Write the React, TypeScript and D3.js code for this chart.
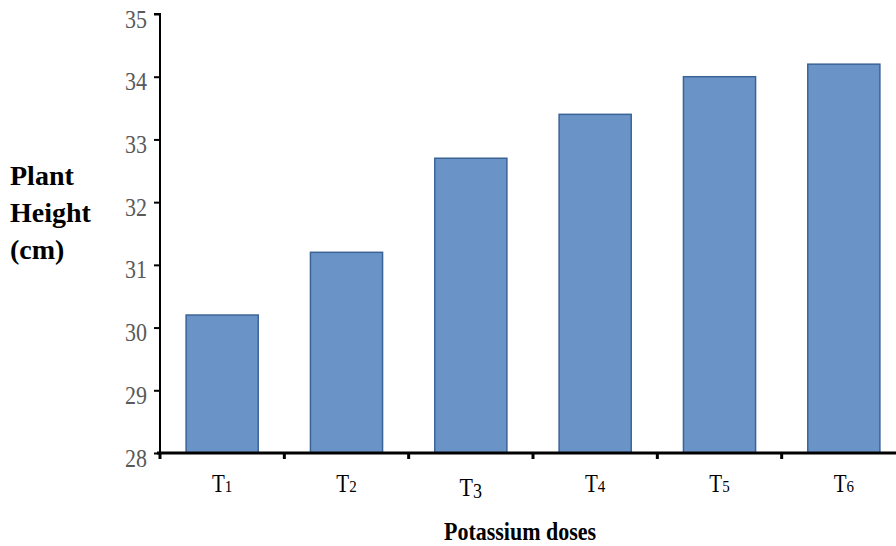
import { useEffect, useRef } from 'react';
import * as d3 from 'd3';

const categories = ['T1', 'T2', 'T3', 'T4', 'T5', 'T6'];
const subscripts = ['1', '2', '3', '4', '5', '6'];
const heights = [30.2, 31.2, 32.7, 33.4, 34.0, 34.2];
const yTicks = [28, 29, 30, 31, 32, 33, 34, 35];

const App = () => {
  const ref = useRef<SVGSVGElement>(null);

  useEffect(() => {
    const width = 896;
    const height = 546;
    const svg = d3.select(ref.current);
    svg.selectAll('*').remove();
    svg.attr('width', width).attr('height', height);

    const font = '"Liberation Serif", "Times New Roman", serif';

    const x = d3.scaleBand().domain(categories).range([160, 906]).paddingInner(0.42).paddingOuter(0.21);
    const xTickScale = d3.scaleBand().domain(categories).range([160, 906]);
    const y = d3.scaleLinear().domain([28, 35]).range([453, 14]);

    // bars
    svg
      .selectAll('rect.bar')
      .data(heights)
      .enter()
      .append('rect')
      .attr('class', 'bar')
      .attr('x', (_, i) => x(categories[i])!)
      .attr('y', (d) => y(d))
      .attr('width', x.bandwidth())
      .attr('height', (d) => y(28) - y(d))
      .attr('fill', '#6a94c8')
      .attr('stroke', '#3c6396')
      .attr('stroke-width', 1.5);

    // y axis
    const yAxis = svg
      .append('g')
      .attr('transform', 'translate(160,0)')
      .call(d3.axisLeft(y).tickValues(yTicks).tickSize(6).tickPadding(6).tickFormat(d3.format('d')));
    yAxis.select('.domain').attr('stroke', '#000').attr('stroke-width', 2).attr('d', `M-6,${y(35)}H0V${y(28)}`);
    yAxis.selectAll('.tick line').attr('stroke', '#000').attr('stroke-width', 2);
    yAxis
      .selectAll('.tick text')
      .attr('fill', '#595959')
      .attr('dy', null)
      .attr('x', 0)
      .attr('y', 0)
      .attr('transform', 'translate(-13,13) scale(1,1.12)')
      .style('font-family', font)
      .style('font-size', '22px');

    // x axis
    svg
      .append('line')
      .attr('x1', 157)
      .attr('x2', 906)
      .attr('y1', y(28))
      .attr('y2', y(28))
      .attr('stroke', '#000')
      .attr('stroke-width', 3);

    svg
      .selectAll('line.xtick')
      .data(categories)
      .enter()
      .append('line')
      .attr('class', 'xtick')
      .attr('x1', (d) => xTickScale(d)!)
      .attr('x2', (d) => xTickScale(d)!)
      .attr('y1', y(28))
      .attr('y2', y(28) + 6)
      .attr('stroke', '#000')
      .attr('stroke-width', 3);

    const labels = svg
      .selectAll('text.xlabel')
      .data(categories)
      .enter()
      .append('text')
      .attr('class', 'xlabel')
      .attr('transform', (d, i) => `translate(${x(d)! + x.bandwidth() / 2},${i === 2 ? 496 : 492}) scale(1,1.18)`)
      .attr('text-anchor', 'middle')
      .attr('fill', '#000')
      .style('font-family', font)
      .style('font-size', (_, i) => (i === 2 ? '22px' : '21px'));
    labels.append('tspan').text('T');
    labels
      .append('tspan')
      .style('font-size', (_, i) => (i === 2 ? '18px' : '15px'))
      .attr('dy', (_, i) => (i === 2 ? 1.5 : 0))
      .text((_, i) => subscripts[i]);

    // y title
    const yTitle = svg
      .append('text')
      .attr('x', 10)
      .attr('y', 185)
      .attr('fill', '#000')
      .style('font-family', font)
      .style('font-size', '28px')
      .style('font-weight', 'bold');
    ['Plant', 'Height', '(cm)'].forEach((t, i) => {
      yTitle
        .append('tspan')
        .attr('x', 10)
        .attr('dy', i === 0 ? 0 : 37)
        .text(t);
    });

    // x title
    svg
      .append('text')
      .attr('transform', 'translate(520,540) scale(1,1.15)')
      .attr('text-anchor', 'middle')
      .attr('fill', '#000')
      .style('font-family', font)
      .style('font-size', '22px')
      .style('font-weight', 'bold')
      .text('Potassium doses');
  }, []);

  return <svg ref={ref} style={{ position: 'absolute', left: 0, top: 0 }}></svg>;
};

export default App;
